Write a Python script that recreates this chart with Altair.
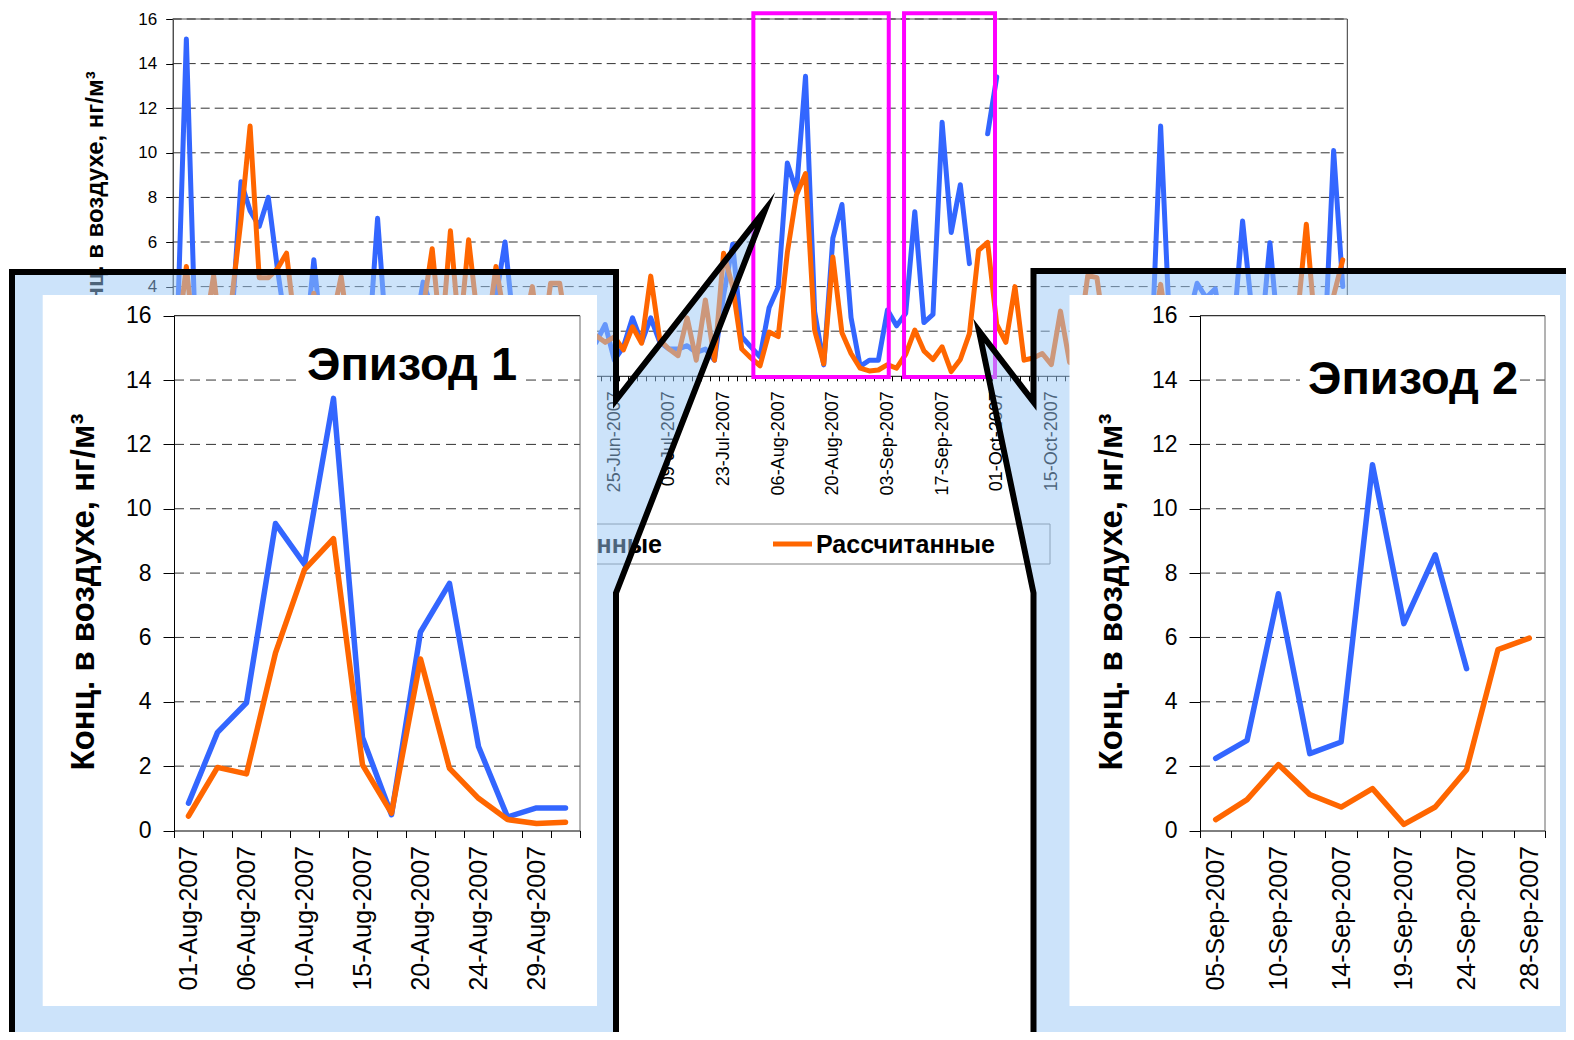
import json
import pandas as pd
import altair as alt

FONT = "Liberation Sans"
BLUE = "#3366FF"
ORANGE = "#FF6600"

series_names = ["Измеренные", "Рассчитанные"]
y_title = "Конц. в воздухе, нг/м³"
episode_titles = ["Эпизод 1", "Эпизод 2"]

# ---------------- main chart: Mon/Wed/Fri samples, 05-Mar-2007 ... 28-Dec-2007 ----------------
main_tick_labels = ["05-Mar-2007", "19-Mar-2007", "02-Apr-2007", "16-Apr-2007", "30-Apr-2007",
                    "14-May-2007", "28-May-2007", "11-Jun-2007", "25-Jun-2007", "09-Jul-2007",
                    "23-Jul-2007", "06-Aug-2007", "20-Aug-2007", "03-Sep-2007", "17-Sep-2007",
                    "01-Oct-2007", "15-Oct-2007", "29-Oct-2007", "12-Nov-2007", "26-Nov-2007",
                    "10-Dec-2007", "24-Dec-2007"]
main_label_index = [0, 6, 12, 18, 24, 30, 36, 42, 48, 54, 60, 66, 72, 78, 84, 90, 96, 102,
                    108, 114, 120, 126]

main_measured = [
    2.0, 15.1, 1.5, 1.0, 2.0, 1.2, 2.5, 8.7, 7.4, 6.7,
    8.0, 4.8, 2.0, 1.5, 1.0, 5.2, 1.2, 2.0, 1.0, 1.5,
    0.8, 1.2, 7.06, 1.5, 1.0, 2.0, 1.8, 4.2, 3.0, 2.5,
    1.5, 2.2, 3.0, 1.5, 2.8, 3.5, 6.0, 2.0, 1.2, 1.0,
    1.5, 1.0, 0.8, 1.2, 1.8, 1.0, 1.5, 2.3, 0.7, 1.3,
    2.6, 1.5, 2.6, 1.5, 1.2, 1.2, 1.35, 1.05, 1.2, 0.7,
    3.6, 5.9, 1.75, 1.3, 0.85, 3.05, 3.97, 9.54, 8.27, 13.43,
    2.89, 0.49, 6.17, 7.68, 2.61, 0.42, 0.70, 0.70, 2.95, 2.24,
    2.80, 7.36, 2.39, 2.75, 11.37, 6.43, 8.57, 5.03, None, 10.85,
    13.4, None, None, None, None, None, None, None, None, None,
    None, None, None, None, None, None, None, 1.0, 11.2, 2.0,
    1.5, 2.5, 4.15, 3.5, 3.9, 1.5, 2.0, 6.94, 3.0, 1.5,
    5.97, 1.5, 2.0, 1.0, 2.5, 1.5, 1.2, 10.1, 4.0]

main_modelled = [
    1.5, 4.9, 1.0, 2.0, 4.5, 1.0, 3.5, 7.0, 11.2, 4.4,
    4.4, 4.8, 5.5, 2.0, 1.5, 3.7, 1.2, 2.5, 4.45, 1.5,
    2.0, 1.0, 2.5, 1.5, 2.0, 1.2, 2.2, 3.0, 5.7, 1.5,
    6.5, 1.8, 6.1, 2.5, 1.8, 4.9, 2.5, 1.5, 2.0, 4.0,
    1.0, 4.15, 4.15, 1.5, 2.0, 1.2, 1.8, 1.5, 1.75, 1.16,
    2.2, 1.46, 4.47, 1.6, 1.2, 0.9, 2.6, 0.7, 3.4, 0.7,
    5.5, 4.0, 1.2, 0.8, 0.45, 1.96, 1.76, 5.52, 8.11, 9.07,
    2.04, 0.54, 5.33, 1.93, 1.00, 0.34, 0.22, 0.26, 0.5, 0.34,
    0.96, 2.05, 1.12, 0.73, 1.30, 0.19, 0.73, 1.89, 5.62, 5.98,
    2.3, 1.5, 4.0, 0.7, 0.8, 1.0, 0.5, 2.9, 0.6, 1.5,
    4.5, 4.4, 1.5, 2.0, 1.2, 1.8, 2.2, 1.5, 4.1, 1.5,
    2.0, 1.0, 1.5, 2.5, 1.2, 2.0, 1.5, 2.8, 1.5, 2.0,
    1.0, 1.8, 1.5, 2.5, 6.8, 2.0, 1.5, 3.6, 5.2]

# ---------------- episode 1 ----------------
ep1_dates = ["01-Aug-2007", "03-Aug-2007", "06-Aug-2007", "08-Aug-2007", "10-Aug-2007",
             "13-Aug-2007", "15-Aug-2007", "17-Aug-2007", "20-Aug-2007", "22-Aug-2007",
             "24-Aug-2007", "27-Aug-2007", "29-Aug-2007", "31-Aug-2007"]
ep1_measured = [0.85, 3.05, 3.97, 9.54, 8.27, 13.43, 2.89, 0.49, 6.17, 7.68, 2.61, 0.42, 0.70, 0.70]
ep1_modelled = [0.45, 1.96, 1.76, 5.52, 8.11, 9.07, 2.04, 0.54, 5.33, 1.93, 1.00, 0.34, 0.22, 0.26]
ep1_tick_labels = ["01-Aug-2007", "06-Aug-2007", "10-Aug-2007", "15-Aug-2007",
                   "20-Aug-2007", "24-Aug-2007", "29-Aug-2007"]
ep1_label_index = [0, 2, 4, 6, 8, 10, 12]

# ---------------- episode 2 ----------------
ep2_dates = ["05-Sep-2007", "07-Sep-2007", "10-Sep-2007", "12-Sep-2007", "14-Sep-2007",
             "17-Sep-2007", "19-Sep-2007", "21-Sep-2007", "24-Sep-2007", "26-Sep-2007",
             "28-Sep-2007"]
ep2_measured = [2.24, 2.80, 7.36, 2.39, 2.75, 11.37, 6.43, 8.57, 5.03, None, None]
ep2_modelled = [0.34, 0.96, 2.05, 1.12, 0.73, 1.30, 0.19, 0.73, 1.89, 5.62, 5.98]
ep2_tick_labels = ["05-Sep-2007", "10-Sep-2007", "14-Sep-2007", "19-Sep-2007",
                   "24-Sep-2007", "28-Sep-2007"]
ep2_label_index = [0, 2, 4, 6, 8, 10]

inset_y_ticks = [0, 2, 4, 6, 8, 10, 12, 14, 16]
main_y_ticks = [4, 6, 8, 10, 12, 14, 16]   # 0 and 2 lie under the inset panel
main_grid = [2, 4, 6, 8, 10, 12, 14, 16]
inset_grid = [2, 4, 6, 8, 10, 12, 14]

# episodes highlighted on the main chart (category index / value extents)
box_x0 = [63.27, 79.82]
box_x1 = [78.14, 89.81]
box_y0 = [-0.05, -0.05]
box_y1 = [16.26, 16.26]

# ---------------- layout (pixels inside the chart) ----------------
W, H = 1558, 1024
MAIN_X = [164.7, 1339.3]
MAIN_Y = [367.8, 11.0]
EP1_X = [166.0, 572.0]
EP2_X = [1192.0, 1537.0]
EP_Y = [822.5, 307.7]

callout_left = [(4, 1060), (4, 264), (608, 264), (608, 392), (757, 202), (608, 585), (608, 1060)]
callout_right = [(1620, 263), (1025.5, 263), (1025.5, 394), (971, 323), (1025.5, 585),
                 (1025.5, 1060), (1620, 1060)]
white_panels = [(34.7, 589.0, 287.0, 998.0), (1061.5, 1552.0, 287.0, 998.0)]


def seg_frame(values):
    rows, seg = [], 0
    for i, v in enumerate(values):
        if v is None:
            seg += 1
            continue
        rows.append({"i": i, "v": v, "seg": seg})
    return pd.DataFrame(rows)


def label_expr(idx, labels):
    a = json.dumps(idx)
    b = json.dumps(labels)
    return f"indexof({a}, datum.value + 0.5) >= 0 ? {b}[indexof({a}, datum.value + 0.5)] : ''"


def one():
    return pd.DataFrame({"a": [0]})


def text_at(txt, x, y, size, weight="normal", angle=0, align="center", baseline="middle"):
    return alt.Chart(pd.DataFrame({"t": [txt]})).mark_text(
        font=FONT, fontSize=size, fontWeight=weight, angle=angle, align=align,
        baseline=baseline, color="black").encode(x=alt.value(x), y=alt.value(y), text="t:N")


def rect_at(x0, x1, y0, y1, fill, stroke=None, sw=0):
    kw = dict(fill=fill, strokeWidth=sw)
    if stroke:
        kw["stroke"] = stroke
    return alt.Chart(one()).mark_rect(**kw).encode(
        x=alt.value(x0), x2=alt.value(x1), y=alt.value(y0), y2=alt.value(y1))


def panel(measured, modelled, n, xs, ys, xaxis, yaxis, grid_vals, dash, lw, top_color, right_color):
    grid = alt.Chart(pd.DataFrame({"gy": grid_vals})).mark_rule(
        color="#333333", strokeWidth=1, strokeDash=dash).encode(
        x=alt.XDatum(-0.5, scale=xs, axis=xaxis), x2=alt.X2Datum(n - 0.5),
        y=alt.Y("gy:Q", scale=ys, axis=yaxis))
    top = alt.Chart(one()).mark_rule(color=top_color, strokeWidth=1.3).encode(
        x=alt.XDatum(-0.5, scale=xs, axis=xaxis), x2=alt.X2Datum(n - 0.5),
        y=alt.YDatum(16, scale=ys, axis=yaxis))
    right = alt.Chart(one()).mark_rule(color=right_color, strokeWidth=1).encode(
        x=alt.XDatum(n - 0.5, scale=xs, axis=xaxis),
        y=alt.YDatum(0, scale=ys, axis=yaxis), y2=alt.Y2Datum(16))
    blue = alt.Chart(seg_frame(measured)).mark_line(
        color=BLUE, strokeWidth=lw, strokeCap="round", strokeJoin="round").encode(
        x=alt.X("i:Q", scale=xs, axis=xaxis), y=alt.Y("v:Q", scale=ys, axis=yaxis),
        detail="seg:N", order="i:Q")
    orange = alt.Chart(seg_frame(modelled)).mark_line(
        color=ORANGE, strokeWidth=lw, strokeCap="round", strokeJoin="round").encode(
        x=alt.X("i:Q", scale=xs, axis=xaxis), y=alt.Y("v:Q", scale=ys, axis=yaxis),
        detail="seg:N", order="i:Q")
    return [top, grid, right, blue, orange]


def x_axis(n, idx, labels, offset, half, size, tick, pad, z):
    return alt.Axis(orient="bottom", offset=offset, values=[k - 0.5 for k in range(n + 1)],
                    labelExpr=label_expr(idx, labels), labelAngle=270, labelOffset=half,
                    tickSize=tick, labelPadding=pad, labelFontSize=size, labelFont=FONT,
                    labelColor="black", domainColor="black", tickColor="black",
                    domainWidth=1, tickWidth=1, grid=False, title="", labelOverlap=False,
                    labelFlush=False, zindex=z)


def y_axis(values, offset, size, tick, pad, z):
    return alt.Axis(orient="left", offset=offset, values=values, tickSize=tick,
                    labelPadding=pad, labelFontSize=size, labelFont=FONT, labelColor="black",
                    domainColor="black", tickColor="black", domainWidth=1, tickWidth=1,
                    grid=False, title="", labelOverlap=False, labelFlush=False, zindex=z)


# ---------------- main layer ----------------
NM = len(main_measured)
xs_main = alt.Scale(domain=[-0.5, NM - 0.5], range=MAIN_X, nice=False, zero=False)
ys_main = alt.Scale(domain=[0, 16], range=MAIN_Y, nice=False, zero=False)
xa_main = x_axis(NM, main_label_index, main_tick_labels, MAIN_Y[0] - H, 4.55, 18, 5, 10, 0)
ya_main = y_axis(main_y_ticks, -MAIN_X[0], 17, 7, 9, 0)
main_parts = panel(main_measured, main_modelled, NM, xs_main, ys_main, xa_main, ya_main,
                   main_grid, [9, 5], 5, "#888888", "#333333")

boxes = alt.Chart(pd.DataFrame({"x0": box_x0, "x1": box_x1, "y0": box_y0, "y1": box_y1})).mark_rect(
    fillOpacity=0, stroke="#FF00FF", strokeWidth=4).encode(
    x=alt.X("x0:Q", scale=xs_main, axis=xa_main), x2="x1:Q",
    y=alt.Y("y0:Q", scale=ys_main, axis=ya_main), y2="y1:Q")

legend_box = rect_at(462, 1042, 516, 556, "white", "#808080", 1)
leg_sym_blue = alt.Chart(one()).mark_rule(color=BLUE, strokeWidth=5).encode(
    x=alt.value(466), x2=alt.value(504), y=alt.value(536))
leg_sym_orange = alt.Chart(one()).mark_rule(color=ORANGE, strokeWidth=5).encode(
    x=alt.value(765), x2=alt.value(804), y=alt.value(536))
leg_txt1 = text_at(series_names[0], 654, 545, 25, "bold", align="right", baseline="alphabetic")
leg_txt2 = text_at(series_names[1], 808, 545, 25, "bold", align="left", baseline="alphabetic")
main_ytitle = text_at(y_title, 88, 193, 24, "bold", angle=270)

main_layer = alt.layer(*main_parts, boxes, legend_box, leg_sym_blue, leg_sym_orange,
                       leg_txt1, leg_txt2, main_ytitle)

# ---------------- overlay: callout boxes and white panels ----------------
poly_rows = []
for name, pts in (("left", callout_left), ("right", callout_right)):
    for k, (px, py) in enumerate(pts):
        poly_rows.append({"shape": name, "k": k, "px": px, "py": py})
callouts = alt.Chart(pd.DataFrame(poly_rows)).mark_line(
    fill="#99C8F5", fillOpacity=0.5, stroke="black", strokeWidth=6,
    strokeJoin="miter", strokeMiterLimit=10).encode(
    x=alt.X("px:Q", scale=None, axis=None), y=alt.Y("py:Q", scale=None, axis=None),
    detail="shape:N", order="k:Q")
panels = alt.Chart(pd.DataFrame(white_panels, columns=["x0", "x1", "y0", "y1"])).mark_rect(
    fill="white", strokeWidth=0).encode(
    x=alt.X("x0:Q", scale=None, axis=None), x2="x1:Q",
    y=alt.Y("y0:Q", scale=None, axis=None), y2="y1:Q")
overlay_layer = alt.layer(callouts, panels)

# ---------------- inset 1 ----------------
N1 = len(ep1_dates)
xs1 = alt.Scale(domain=[-0.5, N1 - 0.5], range=EP1_X, nice=False, zero=False)
ys1 = alt.Scale(domain=[0, 16], range=EP_Y, nice=False, zero=False)
ep1_parts = panel(ep1_measured, ep1_modelled, N1, xs1, ys1,
                  x_axis(N1, ep1_label_index, ep1_tick_labels, EP_Y[0] - H,
                         (EP1_X[1] - EP1_X[0]) / N1 / 2, 25, 7, 8, 1),
                  y_axis(inset_y_ticks, -EP1_X[0], 23, 11, 12, 1),
                  inset_grid, [10, 6], 5.5, "#333333", "#666666")
ep1_title_bg = rect_at(292, 516, 335, 384, "white")
ep1_title = text_at(episode_titles[0], 404, 372, 47, "bold", baseline="alphabetic")
ep1_ytitle = text_at(y_title, 76, 584, 33, "bold", angle=270)
ep1_layer = alt.layer(*ep1_parts, ep1_title_bg, ep1_title, ep1_ytitle)

# ---------------- inset 2 ----------------
N2 = len(ep2_dates)
xs2 = alt.Scale(domain=[-0.5, N2 - 0.5], range=EP2_X, nice=False, zero=False)
ys2 = alt.Scale(domain=[0, 16], range=EP_Y, nice=False, zero=False)
ep2_parts = panel(ep2_measured, ep2_modelled, N2, xs2, ys2,
                  x_axis(N2, ep2_label_index, ep2_tick_labels, EP_Y[0] - H,
                         (EP2_X[1] - EP2_X[0]) / N2 / 2, 25, 7, 8, 1),
                  y_axis(inset_y_ticks, -EP2_X[0], 23, 11, 12, 1),
                  inset_grid, [10, 6], 5.5, "#333333", "#666666")
ep2_title_bg = rect_at(1292, 1512, 349, 396, "white")
ep2_title = text_at(episode_titles[1], 1405, 386, 47, "bold", baseline="alphabetic")
ep2_ytitle = text_at(y_title, 1104, 584, 33, "bold", angle=270)
ep2_layer = alt.layer(*ep2_parts, ep2_title_bg, ep2_title, ep2_ytitle)

chart = alt.layer(main_layer, overlay_layer, ep1_layer, ep2_layer).resolve_scale(
    x="independent", y="independent"
).properties(
    width=W, height=H, padding=0, background="white",
    autosize=alt.AutoSizeParams(type="none")
).configure_view(strokeWidth=0)

chart.save("out.html", embed_options={"renderer": "svg", "actions": False})
